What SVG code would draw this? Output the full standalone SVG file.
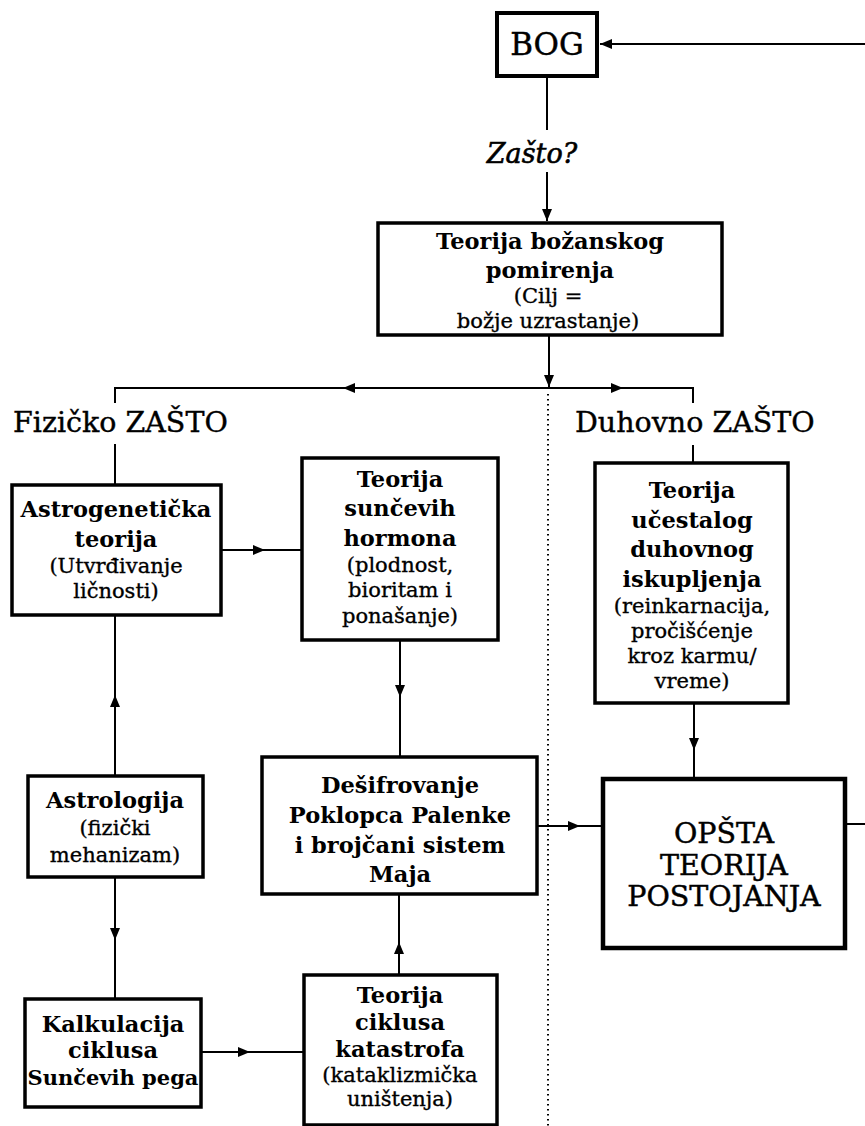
<svg xmlns="http://www.w3.org/2000/svg" width="865" height="1126" viewBox="0 0 865 1126">
<style>
.box{fill:#fff;stroke:#000;stroke-width:3.5}
.c{fill:none;stroke:#000;stroke-width:2}
.dot{fill:none;stroke:#000;stroke-width:2;stroke-dasharray:1.5 3.5}
.t{font-family:"DejaVu Serif",serif;font-weight:bold;font-size:22.5px;text-anchor:middle;fill:#000}
.p{font-family:"DejaVu Serif",serif;font-size:21px;text-anchor:middle;fill:#000;stroke:#000;stroke-width:0.35}
.h{font-family:"DejaVu Serif",serif;font-size:28.5px;fill:#000;stroke:#000;stroke-width:0.4}
.big{font-family:"DejaVu Serif",serif;font-size:28.5px;text-anchor:middle;fill:#000;stroke:#000;stroke-width:0.45}
</style>
<defs>
<marker id="ah" markerUnits="userSpaceOnUse" viewBox="0 0 12 10" refX="12" refY="5" markerWidth="12" markerHeight="10" orient="auto">
<path d="M0,0 L12,5 L0,10 z" fill="#000"/>
</marker>
</defs>
<rect width="865" height="1126" fill="#fff"/>

<g id="connectors">
<path class="c" d="M865,44 L600,44" marker-end="url(#ah)"/>
<path class="c" d="M547,76 L547,130"/>
<path class="c" d="M547,172 L547,221" marker-end="url(#ah)"/>
<path class="c" d="M549,335 L549,387" marker-end="url(#ah)"/>
<path class="c" d="M549,388 L343,388 L115,388" marker-mid="url(#ah)"/>
<path class="c" d="M549,388 L623,388 L693,388" marker-mid="url(#ah)"/>
<path class="c" d="M115,387 L115,403"/>
<path class="c" d="M693,387 L693,403"/>
<path class="c" d="M115,444 L115,485"/>
<path class="c" d="M693,445 L693,463"/>
<path class="dot" d="M548,394 L548,1126"/>
<path class="c" d="M221,550 L265,550 L302,550" marker-mid="url(#ah)"/>
<path class="c" d="M400,640 L400,697 L400,757" marker-mid="url(#ah)"/>
<path class="c" d="M115,776 L115,695 L115,615" marker-mid="url(#ah)"/>
<path class="c" d="M115,877 L115,940 L115,999" marker-mid="url(#ah)"/>
<path class="c" d="M200,1052 L250,1052 L304,1052" marker-mid="url(#ah)"/>
<path class="c" d="M399,975 L399,942 L399,894" marker-mid="url(#ah)"/>
<path class="c" d="M694,703 L694,750 L694,779" marker-mid="url(#ah)"/>
<path class="c" d="M537,826 L580,826 L603,826" marker-mid="url(#ah)"/>
<path class="c" d="M845,824 L865,824"/>
</g>

<g id="bog">
<rect class="box" x="497" y="13" width="100" height="63" style="stroke-width:4"/>
<text class="big" x="547" y="55" style="font-size:31px">BOG</text>
</g>

<g id="zasto">
<text x="532" y="163" style="font-family:'DejaVu Serif',serif;font-style:italic;font-size:27px;text-anchor:middle;stroke:#000;stroke-width:0.6">Zašto?</text>
</g>

<g id="bozanskog">
<rect class="box" x="378" y="223" width="344" height="112"/>
<text class="t" x="550" y="249">Teorija božanskog</text>
<text class="t" x="550" y="278">pomirenja</text>
<text class="p" x="548" y="303">(Cilj =</text>
<text class="p" x="548" y="328">božje uzrastanje)</text>
</g>

<g id="fizicko">
<text class="h" x="13" y="432">Fizičko ZAŠTO</text>
</g>

<g id="duhovno">
<text class="h" x="575" y="432">Duhovno ZAŠTO</text>
</g>

<g id="astrogeneticka">
<rect class="box" x="12" y="485" width="209" height="130"/>
<text class="t" x="116" y="517">Astrogenetička</text>
<text class="t" x="116" y="547">teorija</text>
<text class="p" x="116" y="573">(Utvrđivanje</text>
<text class="p" x="116" y="598">ličnosti)</text>
</g>

<g id="suncevih">
<rect class="box" x="302" y="458" width="196" height="182"/>
<text class="t" x="400" y="487">Teorija</text>
<text class="t" x="400" y="516">sunčevih</text>
<text class="t" x="400" y="546">hormona</text>
<text class="p" x="400" y="572">(plodnost,</text>
<text class="p" x="400" y="597">bioritam i</text>
<text class="p" x="400" y="623">ponašanje)</text>
</g>

<g id="ucestalog">
<rect class="box" x="595" y="463" width="193" height="240"/>
<text class="t" x="692" y="498">Teorija</text>
<text class="t" x="692" y="528">učestalog</text>
<text class="t" x="692" y="557">duhovnog</text>
<text class="t" x="692" y="587">iskupljenja</text>
<text class="p" x="692" y="613">(reinkarnacija,</text>
<text class="p" x="692" y="638">pročišćenje</text>
<text class="p" x="692" y="663">kroz karmu/</text>
<text class="p" x="692" y="688">vreme)</text>
</g>

<g id="astrologija">
<rect class="box" x="28" y="776" width="175" height="101"/>
<text class="t" x="115" y="808">Astrologija</text>
<text class="p" x="115" y="835">(fizički</text>
<text class="p" x="115" y="862">mehanizam)</text>
</g>

<g id="desifrovanje">
<rect class="box" x="262" y="757" width="275" height="137"/>
<text class="t" x="400" y="793">Dešifrovanje</text>
<text class="t" x="400" y="823">Poklopca Palenke</text>
<text class="t" x="400" y="853">i brojčani sistem</text>
<text class="t" x="400" y="882">Maja</text>
</g>

<g id="opsta">
<rect class="box" x="603" y="779" width="242" height="169" style="stroke-width:4.5"/>
<text class="big" x="724" y="843">OPŠTA</text>
<text class="big" x="724" y="875">TEORIJA</text>
<text class="big" x="724" y="906">POSTOJANJA</text>
</g>

<g id="kalkulacija">
<rect class="box" x="25" y="999" width="176" height="108"/>
<text class="t" x="113" y="1032">Kalkulacija</text>
<text class="t" x="113" y="1058">ciklusa</text>
<text class="t" x="113" y="1085" style="font-size:21px">Sunčevih pega</text>
</g>

<g id="ciklusa">
<rect class="box" x="304" y="975" width="193" height="150"/>
<text class="t" x="400" y="1003">Teorija</text>
<text class="t" x="400" y="1030">ciklusa</text>
<text class="t" x="400" y="1057">katastrofa</text>
<text class="p" x="400" y="1082">(kataklizmička</text>
<text class="p" x="400" y="1106">uništenja)</text>
</g>
</svg>
